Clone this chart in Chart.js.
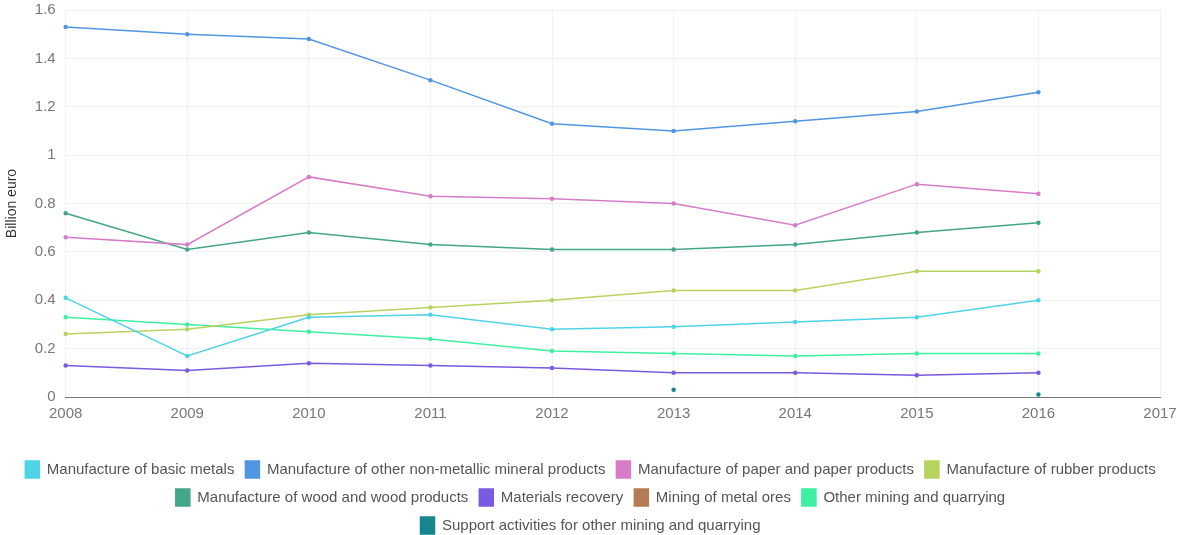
<!DOCTYPE html>
<html>
<head>
<meta charset="utf-8">
<script src="https://cdn.jsdelivr.net/npm/chart.js@4/dist/chart.umd.min.js"></script>
<style>
  html, body { margin: 0; padding: 0; background: #fff; }
  #wrap { width: 1177px; height: 535px; }
</style>
</head>
<body>
<div id="wrap"><canvas id="chart"></canvas></div>
<script>
var years = ['2008', '2009', '2010', '2011', '2012', '2013', '2014', '2015', '2016', '2017'];

var basicMetals = [0.41, 0.17, 0.33, 0.34, 0.28, 0.29, 0.31, 0.33, 0.40, null];
var nonMetallic = [1.53, 1.50, 1.48, 1.31, 1.13, 1.10, 1.14, 1.18, 1.26, null];
var paperProducts = [0.66, 0.63, 0.91, 0.83, 0.82, 0.80, 0.71, 0.88, 0.84, null];
var rubberProducts = [0.26, 0.28, 0.34, 0.37, 0.40, 0.44, 0.44, 0.52, 0.52, null];
var woodProducts = [0.76, 0.61, 0.68, 0.63, 0.61, 0.61, 0.63, 0.68, 0.72, null];
var materialsRecovery = [0.13, 0.11, 0.14, 0.13, 0.12, 0.10, 0.10, 0.09, 0.10, null];
var metalOres = [null, null, null, null, null, null, null, null, null, null];
var otherMining = [0.33, 0.30, 0.27, 0.24, 0.19, 0.18, 0.17, 0.18, 0.18, null];
var supportActivities = [null, null, null, null, null, 0.03, null, null, 0.01, null];

var yTicks = [0, 0.2, 0.4, 0.6, 0.8, 1, 1.2, 1.4, 1.6];

var font = 'Liberation Sans, Arial, sans-serif';

function series(label, data, color) {
  return {
    label: label,
    data: data,
    borderColor: color,
    backgroundColor: color,
    borderWidth: 1.5,
    pointRadius: 1.5,
    pointHoverRadius: 3,
    fill: false,
    tension: 0,
    spanGaps: false
  };
}

document.addEventListener('DOMContentLoaded', function () {
  var ctx = document.getElementById('chart');
  new Chart(ctx, {
    type: 'line',
    data: {
      labels: years,
      datasets: [
        series('Manufacture of basic metals', basicMetals, '#4fd3e6'),
        series('Manufacture of other non-metallic mineral products', nonMetallic, '#5196e3'),
        series('Manufacture of paper and paper products', paperProducts, '#d77cc8'),
        series('Manufacture of rubber products', rubberProducts, '#b6d35e'),
        series('Manufacture of wood and wood products', woodProducts, '#44a688'),
        series('Materials recovery', materialsRecovery, '#7a5ae0'),
        series('Mining of metal ores', metalOres, '#b47c56'),
        series('Other mining and quarrying', otherMining, '#3ff0a2'),
        series('Support activities for other mining and quarrying', supportActivities, '#16878f')
      ]
    },
    options: {
      responsive: true,
      maintainAspectRatio: false,
      animation: false,
      layout: { padding: { left: 4, right: 0, top: 0, bottom: -9 } },
      plugins: {
        legend: {
          position: 'bottom',
          labels: {
            boxWidth: 14,
            boxHeight: 17,
            padding: 11,
            color: '#555',
            font: { family: font, size: 15 }
          }
        },
        tooltip: { enabled: false }
      },
      scales: {
        x: {
          grid: {
            color: 'rgba(0,0,0,0.05)',
            drawTicks: false
          },
          border: { color: '#777', width: 1 },
          ticks: {
            color: '#777',
            padding: 8,
            maxRotation: 0,
            font: { family: font, size: 15 }
          },
          afterFit: function (scale) {
            scale.height += 19;
            scale.paddingRight = 17;
          }
        },
        y: {
          min: 0,
          max: 1.6,
          afterBuildTicks: function (axis) {
            axis.ticks = yTicks.map(function (v) { return { value: v }; });
          },
          afterFit: function (scale) {
            scale.paddingTop = 10;
          },
          grid: {
            color: 'rgba(0,0,0,0.05)',
            drawTicks: false
          },
          border: { display: false },
          ticks: {
            color: '#777',
            padding: 10,
            font: { family: font, size: 15 },
            callback: function (value) { return String(value); }
          },
          title: {
            display: true,
            text: 'Billion euro',
            color: '#333',
            padding: { top: 0, bottom: 4 },
            font: { family: font, size: 14 }
          }
        }
      }
    }
  });
});
</script>
</body>
</html>
